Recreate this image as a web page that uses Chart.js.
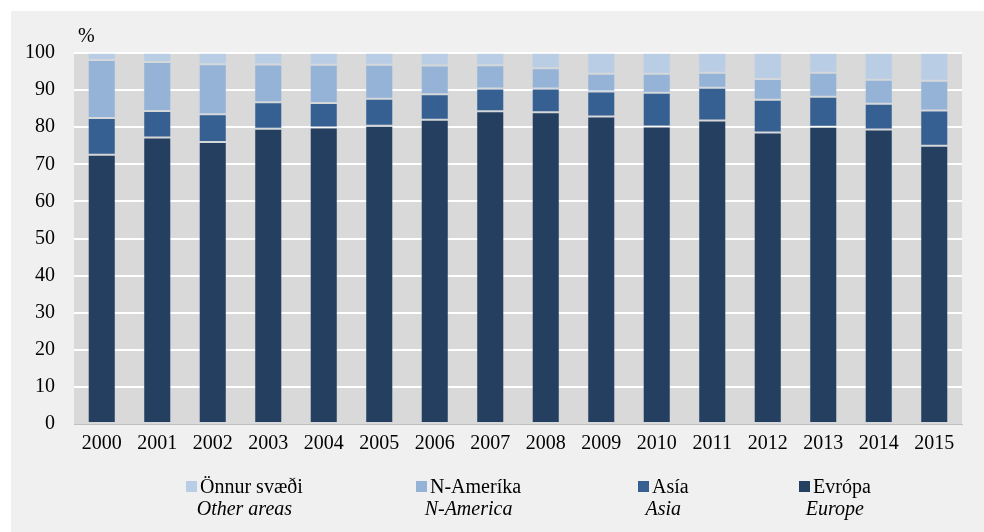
<!DOCTYPE html>
<html>
<head>
<meta charset="utf-8">
<script src="https://cdn.jsdelivr.net/npm/chart.js@4/dist/chart.umd.min.js"></script>
<style>
  html, body { margin: 0; padding: 0; background: #ffffff; }
  body { width: 984px; height: 532px; position: relative; overflow: hidden; font-family: "Liberation Serif", "Times New Roman", serif; }
  #panel { position: absolute; left: 11px; top: 11px; width: 973px; height: 521px; background: #f0f0f0; }
  #wrap { position: absolute; left: 0; top: 0; width: 973px; height: 521px; }
  .leg { position: absolute; top: 464px; color: #000; font-size: 20px; line-height: 22px; }
  .leg .l1 { white-space: nowrap; display: flex; align-items: center; }
  .leg .sw { display: inline-block; width: 11px; height: 11px; margin-right: 3px; }
  .leg .l2 { font-style: italic; text-align: center; white-space: nowrap; }
</style>
</head>
<body>
<div id="panel">
  <div id="wrap"><canvas id="c"></canvas></div>
  <div id="legend"></div>
</div>
<script>
// ---- data ----
const categories = ['2000','2001','2002','2003','2004','2005','2006','2007','2008','2009','2010','2011','2012','2013','2014','2015'];
const europe   = [72.6, 77.2, 76.0, 79.6, 79.9, 80.4, 82.0, 84.3, 84.0, 82.9, 80.2, 81.8, 78.6, 80.1, 79.4, 75.0];
const asia     = [ 9.9,  7.2,  7.5,  7.1,  6.6,  7.3,  6.9,  6.1,  6.4,  6.7,  9.1,  8.8,  8.8,  8.1,  6.9,  9.5];
const nAmerica = [15.6, 13.2, 13.5, 10.2, 10.3,  9.1,  7.7,  6.3,  5.5,  4.8,  5.1,  4.1,  5.6,  6.5,  6.5,  8.0];
const other    = [ 1.9,  2.4,  3.0,  3.1,  3.2,  3.2,  3.4,  3.3,  4.1,  5.6,  5.6,  5.3,  7.0,  5.3,  7.2,  7.5];
const seriesIs = ['Evrópa', 'Asía', 'N-Ameríka', 'Önnur svæði'];
const seriesEn = ['Europe', 'Asia', 'N-America', 'Other areas'];
const yTicks   = [0, 10, 20, 30, 40, 50, 60, 70, 80, 90, 100];
const unitLabel = '%';

// ---- styles ----
const colors = ['#243f60', '#366092', '#95b3d7', '#b9cde5'];
const legendLeft = [788, 627, 405, 175]; // left px of each legend block (panel coords), by series index
const font = { family: '"Liberation Serif", "Times New Roman", serif', size: 20 };

const seriesData = [europe, asia, nAmerica, other];

const plotBg = {
  id: 'plotBg',
  beforeDraw(chart) {
    const a = chart.chartArea, ctx = chart.ctx;
    ctx.save();
    ctx.fillStyle = '#d9d9d9';
    ctx.fillRect(a.left, a.top, a.right - a.left, a.bottom - a.top);
    ctx.restore();
  },
  afterDraw(chart) {
    const a = chart.chartArea, ctx = chart.ctx;
    ctx.save();
    ctx.fillStyle = '#000';
    ctx.font = '20px ' + font.family;
    ctx.textAlign = 'left';
    ctx.textBaseline = 'alphabetic';
    ctx.fillText(unitLabel, a.left + 4, a.top - 11);
    ctx.restore();
  }
};

new Chart(document.getElementById('c'), {
  type: 'bar',
  data: {
    labels: categories,
    datasets: seriesData.map((d, i) => ({
      label: seriesIs[i],
      data: d,
      backgroundColor: colors[i],
      borderColor: 'rgba(200,212,228,0.22)',
      borderWidth: 1,
      borderSkipped: false,
      barPercentage: 0.505,
      categoryPercentage: 1.0
    }))
  },
  options: {
    responsive: true,
    maintainAspectRatio: false,
    animation: false,
    layout: { padding: { top: 42, right: 22, left: 0, bottom: 0 } },
    plugins: { legend: { display: false }, tooltip: { enabled: false } },
    scales: {
      x: {
        stacked: true,
        grid: { display: false, drawTicks: false },
        border: { display: true, color: '#bfbfbf', width: 1 },
        ticks: { color: '#000', font: font, padding: 8, maxRotation: 0, autoSkip: false },
        afterFit(s) { s.height = 108; }
      },
      y: {
        stacked: true,
        min: 0, max: 100,
        afterBuildTicks(s) { s.ticks = yTicks.map(v => ({ value: v })); },
        grid: {
          drawTicks: false,
          lineWidth: 2,
          color: ctx => (ctx.tick && ctx.tick.value === 0) ? 'rgba(0,0,0,0)' : '#ffffff'
        },
        border: { display: false },
        ticks: { color: '#000', font: font, padding: 19 },
        afterFit(s) { s.width = 63; }
      }
    }
  },
  plugins: [plotBg]
});

// ---- HTML legend (top item order: Önnur, N-Ameríka, Asía, Evrópa) ----
const legend = document.getElementById('legend');
[3, 2, 1, 0].forEach(i => {
  const d = document.createElement('div');
  d.className = 'leg';
  d.style.left = legendLeft[i] + 'px';
  const l1 = document.createElement('div');
  l1.className = 'l1';
  const sw = document.createElement('span');
  sw.className = 'sw';
  sw.style.background = colors[i];
  const t = document.createElement('span');
  t.textContent = seriesIs[i];
  l1.appendChild(sw); l1.appendChild(t);
  const l2 = document.createElement('div');
  l2.className = 'l2';
  l2.textContent = seriesEn[i];
  d.appendChild(l1); d.appendChild(l2);
  legend.appendChild(d);
});
</script>
</body>
</html>
